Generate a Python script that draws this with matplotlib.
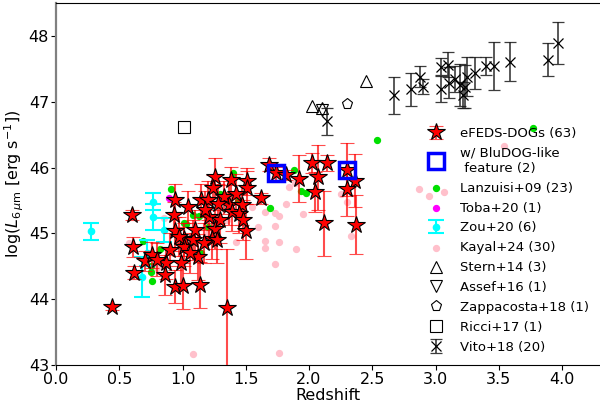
import matplotlib
matplotlib.use("Agg")
import matplotlib.pyplot as plt
import numpy as np

# ---- eFEDS-DOGs (63) ----
efeds_z = [0.44, 0.60, 0.61, 0.62, 0.70, 0.76, 0.87, 0.86, 0.94, 0.93, 0.94, 0.90,
           1.01, 1.01, 0.99, 0.94, 1.00, 1.04, 1.08, 1.12, 1.14, 1.26, 1.24, 1.15,
           1.20, 1.21, 1.26, 1.23, 1.27, 1.35, 1.38, 1.51, 1.51, 1.37, 1.39, 1.47,
           1.50, 1.62, 1.68, 1.74, 1.82, 1.92, 2.02, 2.14, 2.07, 2.05, 2.12, 2.30,
           2.36, 2.30, 2.37, 1.18, 1.30, 1.45, 1.10, 0.97, 1.33, 1.42, 1.06, 1.17,
           0.80, 1.28, 1.48]
efeds_L = [43.88, 45.28, 44.79, 44.40, 44.58, 44.67, 44.55, 44.37, 45.50, 45.28, 45.03, 44.75,
           44.91, 44.80, 44.55, 44.19, 44.20, 45.40, 44.90, 44.64, 44.22, 45.85, 45.69, 45.50,
           45.50, 45.25, 45.06, 44.91, 44.90, 43.86, 45.81, 45.79, 45.69, 45.43, 45.33, 45.43,
           45.03, 45.53, 46.04, 45.91, 45.89, 45.83, 46.07, 46.07, 45.85, 45.63, 45.15, 45.97,
           45.80, 45.67, 45.13, 45.35, 45.20, 45.30, 45.05, 44.95, 45.55, 45.60, 44.70, 44.85,
           44.60, 45.45, 45.20]
efeds_err_lo = [0.05, 0.08, 0.15, 0.10, 0.15, 0.20, 0.25, 0.30, 0.25, 0.20, 0.30, 0.25,
                0.25, 0.30, 0.30, 0.25, 0.35, 0.25, 0.30, 0.35, 0.35, 0.30, 0.20, 0.25,
                0.30, 0.30, 0.30, 0.30, 0.35, 1.20, 0.20, 0.20, 0.25, 0.30, 0.30, 0.30,
                0.42, 0.08, 0.10, 0.10, 0.08, 0.36, 0.15, 0.12, 0.50, 0.30, 0.50, 0.40,
                0.40, 0.40, 0.45, 0.30, 0.35, 0.30, 0.30, 0.30, 0.25, 0.30, 0.30, 0.30,
                0.25, 0.30, 0.30]
efeds_err_hi = [0.05, 0.08, 0.15, 0.10, 0.15, 0.20, 0.25, 0.30, 0.25, 0.20, 0.30, 0.25,
                0.25, 0.30, 0.30, 0.25, 0.35, 0.25, 0.30, 0.35, 0.35, 0.30, 0.20, 0.25,
                0.30, 0.30, 0.30, 0.30, 0.35, 0.90, 0.20, 0.20, 0.25, 0.30, 0.30, 0.30,
                0.42, 0.08, 0.10, 0.10, 0.08, 0.36, 0.15, 0.12, 0.50, 0.30, 0.50, 0.40,
                0.40, 0.40, 0.45, 0.30, 0.35, 0.30, 0.30, 0.30, 0.25, 0.30, 0.30, 0.30,
                0.25, 0.30, 0.30]

# ---- BluDOG-like (2) ----
blu_z = [1.74, 2.30]
blu_L = [45.91, 45.97]

# ---- Lanzuisi+09 (23) ----
lan_z = [0.91, 0.69, 0.82, 0.75, 0.75, 0.76, 1.01, 1.03, 1.08, 1.40, 1.44, 1.13,
         1.88, 1.69, 1.94, 1.98, 2.54, 3.77, 1.20, 1.30, 1.00, 1.15, 0.95]
lan_L = [45.67, 44.88, 44.76, 44.50, 44.42, 44.27, 45.15, 45.14, 45.28, 45.91, 45.49, 45.26,
         45.96, 45.38, 45.65, 45.62, 46.42, 46.60, 45.10, 45.60, 44.90, 44.70, 45.00]

# ---- Toba+20 (1) ----
toba_z = [0.89]
toba_L = [45.54]

# ---- Zou+20 (6) ----
zou_z = [0.28, 0.77, 0.77, 0.85, 0.68, 0.72]
zou_L = [45.03, 45.48, 45.25, 45.05, 44.34, 44.70]
zou_err = [0.13, 0.13, 0.20, 0.18, 0.30, 0.20]

# ---- Kayal+24 (30) ----
kay_z = [1.84, 1.82, 1.65, 1.73, 1.76, 1.73, 1.65, 1.76, 1.65, 1.90, 1.73, 1.76,
         2.30, 2.33, 1.42, 0.80, 0.58, 0.85, 1.08, 3.54, 2.87, 2.95, 3.07, 1.89,
         1.55, 1.60, 2.25, 1.35, 1.20, 1.95]
kay_L = [45.71, 45.45, 45.33, 45.31, 45.26, 45.11, 44.88, 44.87, 44.78, 44.77, 44.53, 43.18,
         45.47, 44.96, 44.87, 44.47, 44.85, 45.24, 43.17, 46.33, 45.67, 45.57, 45.63, 45.76,
         45.40, 45.10, 45.60, 45.20, 45.00, 45.30]

# ---- Stern+14 (3), Assef+16 (1), Zappacosta+18 (1), Ricci+17 (1) ----
stern_z = [2.02, 2.45, 2.10]
stern_L = [46.93, 47.31, 46.90]
assef_z = [2.10]
assef_L = [46.88]
zap_z = [2.30]
zap_L = [46.97]
ricci_z = [1.01]
ricci_L = [46.62]

# ---- Vito+18 (20) ----
vito_z = [2.67, 2.81, 2.88, 2.90, 3.04, 3.04, 3.10, 3.11, 3.19, 3.22, 3.23, 3.25,
          3.31, 3.40, 3.46, 3.59, 3.89, 3.97, 2.14, 3.15]
vito_L = [47.10, 47.19, 47.38, 47.23, 47.53, 47.19, 47.56, 47.29, 47.26, 47.10, 47.23, 47.38,
          47.44, 47.54, 47.54, 47.61, 47.64, 47.89, 46.70, 47.35]
vito_err = [0.28, 0.25, 0.16, 0.11, 0.13, 0.20, 0.19, 0.24, 0.32, 0.20, 0.33, 0.30,
            0.24, 0.14, 0.36, 0.30, 0.25, 0.32, 0.20, 0.20]

xticks = [0.0, 0.5, 1.0, 1.5, 2.0, 2.5, 3.0, 3.5, 4.0]
yticks = [43, 44, 45, 46, 47, 48]

fig = plt.figure(figsize=(6.0, 4.09), dpi=100)
ax = fig.add_axes([56/600, 44/409, 544/600, 362/409])

# background samples
ax.scatter(kay_z, kay_L, s=18, color='pink', zorder=2, label='Kayal+24 (30)')
ax.scatter(lan_z, lan_L, s=18, color='#00e000', zorder=2, label='Lanzuisi+09 (23)')
ax.scatter(toba_z, toba_L, s=18, color='magenta', zorder=2, label='Toba+20 (1)')
ax.errorbar(zou_z, zou_L, yerr=zou_err, fmt='o', ms=4.5, color='cyan', ecolor='cyan',
            capsize=5.5, elinewidth=1.5, capthick=1.5, zorder=2, label='Zou+20 (6)')

# eFEDS
ax.errorbar(efeds_z, efeds_L, yerr=[efeds_err_lo, efeds_err_hi], fmt='*', ms=13,
            mfc='red', mec='black', mew=0.8, ecolor=(1, 0, 0, 0.7), elinewidth=1.5,
            capsize=5, capthick=1.5, zorder=4, label='eFEDS-DOGs (63)')
ax.plot(blu_z, blu_L, 's', ms=11.5, mfc='none', mec='blue', mew=2.5, zorder=5,
        label='w/ BluDOG-like\n feature (2)')

# literature
ax.plot(stern_z, stern_L, '^', ms=8, mfc='none', mec='black', mew=0.8, ls='none', label='Stern+14 (3)')
ax.plot(assef_z, assef_L, 'v', ms=8, mfc='none', mec='black', mew=0.8, ls='none', label='Assef+16 (1)')
ax.plot(zap_z, zap_L, 'p', ms=8, mfc='none', mec='black', mew=0.8, ls='none', label='Zappacosta+18 (1)')
ax.plot(ricci_z, ricci_L, 's', ms=8, mfc='none', mec='black', mew=0.8, ls='none', label='Ricci+17 (1)')
ax.errorbar(vito_z, vito_L, yerr=vito_err, fmt='x', ms=7, color='black', ecolor=(0.1, 0.1, 0.1, 0.85),
            mew=0.9, elinewidth=1.2, capsize=4.5, capthick=1.2, zorder=3, label='Vito+18 (20)')

ax.set_xlim(0, 4.3)
ax.set_ylim(43, 48.5)
ax.set_xticks(xticks)
ax.set_yticks(yticks)
ax.tick_params(labelsize=11.5, pad=1.5, length=3.5)
ax.set_xlabel('Redshift', fontsize=11.5, labelpad=0.5)
ax.set_ylabel(r'log($L_{6\,\mu\mathrm{m}}$ [erg s$^{-1}$])', fontsize=11.5, labelpad=2)
ax.spines['left'].set_color('gray')
ax.spines['left'].set_linewidth(1.6)
ax.spines['right'].set_visible(False)

handles, labels = ax.get_legend_handles_labels()
order = ['eFEDS-DOGs (63)', 'w/ BluDOG-like\n feature (2)', 'Lanzuisi+09 (23)', 'Toba+20 (1)',
         'Zou+20 (6)', 'Kayal+24 (30)', 'Stern+14 (3)', 'Assef+16 (1)', 'Zappacosta+18 (1)',
         'Ricci+17 (1)', 'Vito+18 (20)']
hmap = dict(zip(labels, handles))
ax.legend([hmap[l] for l in order], order, loc='upper left', bbox_to_anchor=(0.665, 0.672),
          frameon=False, fontsize=9.5, labelspacing=0.52, borderaxespad=0, scatterpoints=1)

fig.savefig('out.png', dpi=100)
